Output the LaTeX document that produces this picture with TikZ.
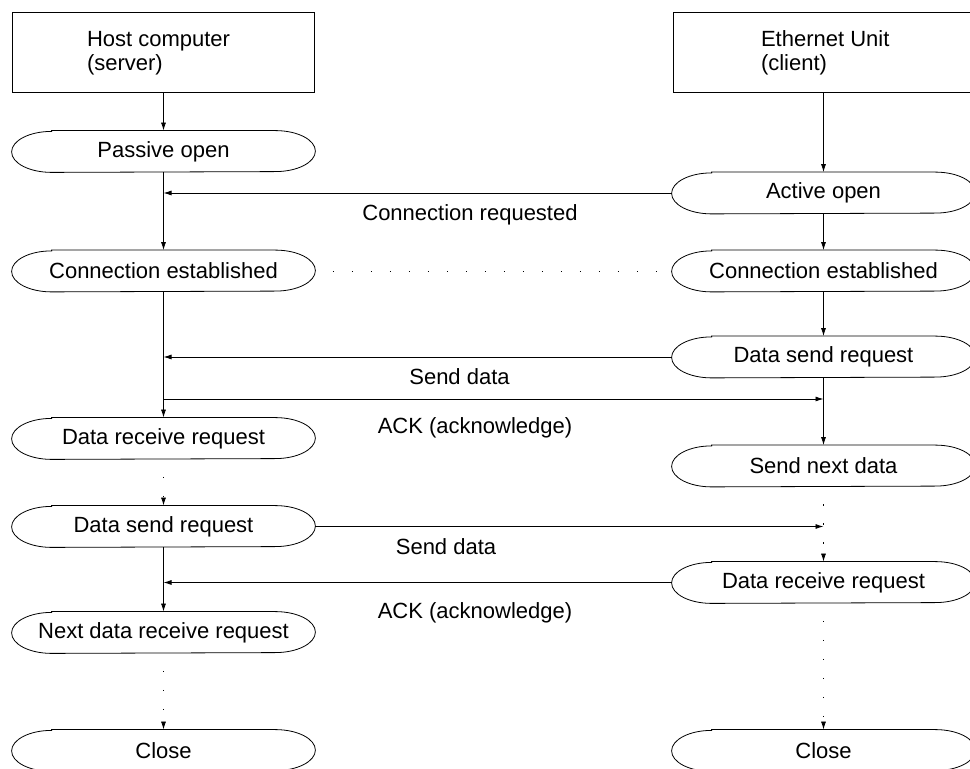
\documentclass[tikz,border=0pt]{standalone}
\usepackage{fontspec}
\setmainfont{Liberation Sans}
\usetikzlibrary{arrows.meta}
\tikzset{
  oval/.style={minimum width=303pt, minimum height=41pt, inner sep=0pt},
  unitbox/.style={draw, minimum width=302pt, minimum height=80pt, inner sep=0pt},
  dots/.style={dash pattern=on 1.5pt off 17.5pt, dash phase=1.5pt},
}
\begin{document}
\begin{tikzpicture}[x=1pt, y=1pt, >={Latex[length=8pt,width=5pt]}, line width=0.8pt, font=\fontsize{22}{24}\selectfont]
	\def\xL{163.5} \def\xR{823.5}
	\useasboundingbox (0,0) rectangle (970,769);
	\clip (0,0) rectangle (970,769);
	% host side
	\node[unitbox] (host) at (163,717) {};
	\node[anchor=west, align=left, inner xsep=0pt] (hosttxt) at ([xshift=75pt,yshift=-1pt]host.west) {Host computer\\(server)};
	\node[oval] (pasv) at (\xL,617.5) {Passive open};
	\node[oval] (estL) at (\xL,498) {Connection established};
	\node[oval] (recvL) at (\xL,330.5) {Data receive request};
	\node[oval] (sendL) at (\xL,242.5) {Data send request};
	\node[oval] (nextL) at (\xL,136.5) {Next data receive request};
	\node[oval] (closeL) at (\xL,18.5) {Close};
	% unit side
	\node[unitbox] (unit) at (824,717) {};
	\node[anchor=west, align=left, inner xsep=0pt] (unittxt) at ([xshift=88pt,yshift=-1pt]unit.west) {Ethernet Unit\\(client)};
	\node[oval] (actv) at (\xR,576) {Active open};
	\node[oval] (estR) at (\xR,498) {Connection established};
	\node[oval] (sendR) at (\xR,412) {Data send request};
	\node[oval] (nextR) at (\xR,303) {Send next data};
	\node[oval] (recvR) at (\xR,186.5) {Data receive request};
	\node[oval] (closeR) at (\xR,18.5) {Close};
	% outlines
	\foreach \n in {pasv,estL,recvL,sendL,nextL,closeL,actv,estR,sendR,nextR,recvR,closeR}
		\draw ([xshift=40pt]\n.north west) -- ([xshift=-40pt]\n.north east)
			arc[start angle=90, end angle=-90, x radius=40pt, y radius=20.5pt]
			-- ([xshift=40pt]\n.south west)
			arc[start angle=270, end angle=90, x radius=40pt, y radius=20.5pt] -- cycle;
	% vertical flow
	\draw[->] (host.south -| pasv.north) -- (pasv.north);
	\draw[->] (pasv) -- (estL);
	\draw[->] (estL) -- (recvL);
	\draw[->, dots] (recvL) -- (sendL);
	\draw[->] (sendL) -- (nextL);
	\draw[->, dots] (nextL) -- (closeL);
	\draw[->] (unit.south -| actv.north) -- (actv.north);
	\draw[->] (actv) -- (estR);
	\draw[->] (estR) -- (sendR);
	\draw[->] (sendR) -- (nextR);
	\draw[->, dots] (nextR) -- (recvR);
	\draw[->, dots] (recvR) -- (closeR);
	% messages
	\draw[dots] (estL.east) -- (estR.west);
	\draw[->] (actv.west) -- (actv.west -| pasv.south);
	\node (lblreq) at (470,554) {Connection requested};
	\draw[->] (sendR.west) -- (sendR.west -| estL.south);
	\node (lblsend1) at (459.5,392) {Send data};
	\coordinate (ack1) at (\xL,370);
	\draw[->] (ack1) -- (ack1 -| sendR.south);
	\node (lblack1) at (475,341) {ACK (acknowledge)};
	\draw[->] (sendL.east) -- (sendL.east -| nextR.south);
	\node (lblsend2) at (446,222) {Send data};
	\draw[->] (recvR.west) -- (recvR.west -| sendL.south);
	\node (lblack2) at (475,156) {ACK (acknowledge)};
\end{tikzpicture}
\end{document}
